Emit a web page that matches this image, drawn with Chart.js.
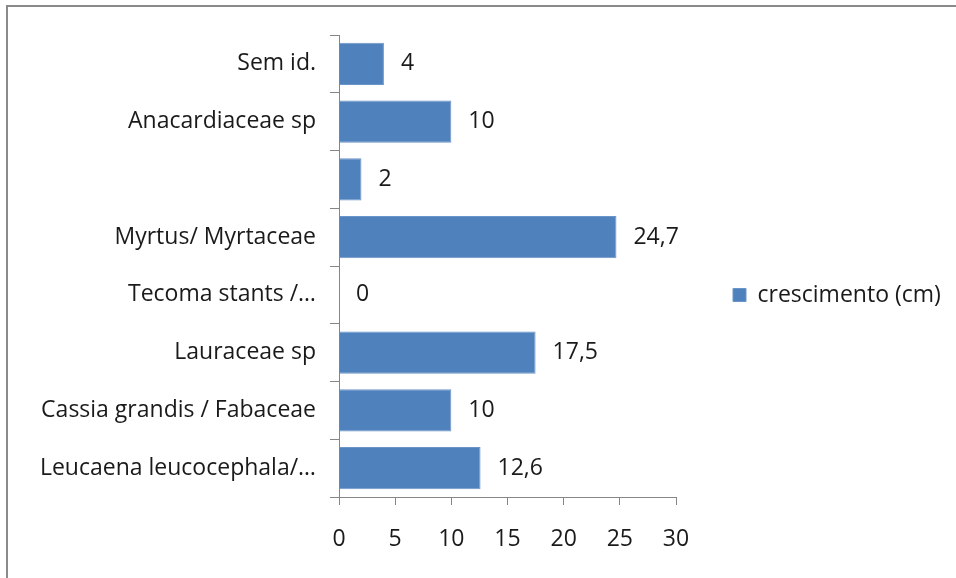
<!DOCTYPE html>
<html>
<head>
<meta charset="utf-8">
<script src="https://cdn.jsdelivr.net/npm/chart.js@4.4.1/dist/chart.umd.min.js"></script>
<style>
  html, body { margin: 0; padding: 0; background: #fff; }
  #wrap { position: relative; width: 956px; height: 578px; overflow: hidden; }
  #frame { position: absolute; left: 6px; top: 5px; width: 1000px; height: 1000px;
           border-top: 2px solid #8a8a8a; border-left: 2px solid #8a8a8a; }
  canvas { position: absolute; left: 0; top: 0; }
</style>
</head>
<body>
<div id="wrap">
  <div id="frame"></div>
  <canvas id="c" width="956" height="578"></canvas>
</div>
<script>
const categories = [
  "Sem id.",
  "Anacardiaceae sp",
  "",
  "Myrtus/ Myrtaceae",
  "Tecoma stants /…",
  "Lauraceae sp",
  "Cassia grandis / Fabaceae",
  "Leucaena leucocephala/…"
];
const growthValues = [4, 10, 2, 24.7, 0, 17.5, 10, 12.6];
const seriesName = "crescimento (cm)";
const xTicks = [0, 5, 10, 15, 20, 25, 30];

const FONT = "Open Sans";
const FS = 23;
const TXT = "#1a1a1a";
const AXIS = "#868686";

const valueLabels = {
  id: "valueLabels",
  afterDatasetsDraw(chart) {
    const ctx = chart.ctx;
    const meta = chart.getDatasetMeta(0);
    ctx.save();
    ctx.font = FS + "px '" + FONT + "'";
    ctx.fillStyle = TXT;
    ctx.textAlign = "left";
    ctx.textBaseline = "middle";
    meta.data.forEach((bar, i) => {
      const v = chart.data.datasets[0].data[i];
      ctx.fillText(String(v).replace(".", ","), bar.x + 17, bar.y);
    });
    ctx.restore();
  }
};

function draw() {
  const c = document.getElementById("c");
  const mctx = c.getContext("2d");
  mctx.font = FS + "px '" + FONT + "'";
  const legendTextW = mctx.measureText(seriesName).width;
  const legendPad = 57;
  const padRight = Math.max(0, 956 - 676 - (legendPad + 13 + FS / 2 + legendTextW + 10));

  new Chart(c, {
    type: "bar",
    data: {
      labels: categories,
      datasets: [{
        label: seriesName,
        data: growthValues,
        backgroundColor: "#4F81BD",
        borderColor: "#6b95c8",
        borderWidth: 1,
        categoryPercentage: 0.73,
        barPercentage: 1.0
      }]
    },
    options: {
      indexAxis: "y",
      responsive: false,
      animation: false,
      layout: { padding: { top: 12, left: 0, right: padRight, bottom: 0 } },
      plugins: {
        tooltip: { enabled: false },
        legend: {
          position: "right",
          maxWidth: 400,
          labels: {
            boxWidth: 13, boxHeight: 13, padding: legendPad,
            color: TXT,
            font: { family: FONT, size: FS }
          }
        }
      },
      scales: {
        x: {
          min: 0, max: 30,
          afterBuildTicks(scale) { scale.ticks = xTicks.map(v => ({ value: v })); },
          afterFit(scale) { scale.height = 81; },
          border: { display: true, color: AXIS, width: 1 },
          grid: { display: true, drawOnChartArea: false, drawTicks: true, tickLength: 8, color: AXIS },
          ticks: { color: TXT, padding: 21, font: { family: FONT, size: FS } }
        },
        xTop: {
          type: "linear",
          position: "top",
          axis: "x",
          min: 0, max: 30,
          afterFit(scale) { scale.height = 23; },
          border: { display: false },
          grid: { display: false },
          ticks: { display: false }
        },
        y: {
          afterFit(scale) { scale.width = 339; },
          border: { display: true, color: AXIS, width: 1 },
          grid: { display: true, offset: true, drawOnChartArea: false, drawTicks: true, tickLength: 9, color: AXIS },
          ticks: { color: TXT, padding: 14, autoSkip: false, font: { family: FONT, size: FS } }
        }
      }
    },
    plugins: [valueLabels]
  });
}

if (document.fonts && document.fonts.load) {
  document.fonts.load(FS + "px '" + FONT + "'").then(draw, draw);
} else {
  draw();
}
</script>
</body>
</html>
